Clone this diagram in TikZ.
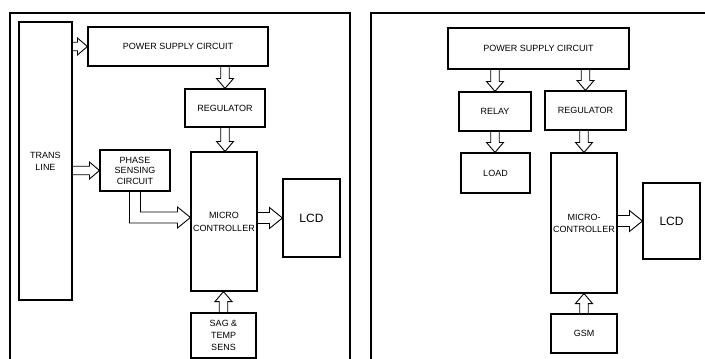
\documentclass[tikz,border=0pt]{standalone}
\usepackage{fontspec}
\setmainfont{Liberation Sans}
\usetikzlibrary{calc}
\tikzset{
	blk/.style={draw, line width=1.1pt, align=center, inner sep=1pt, font=\fontsize{9}{12}\selectfont},
	bigtxt/.style={font=\fontsize{12}{13}\selectfont},
	blkline/.style={line width=0.9pt, line join=miter}
}
% shaft half width, head half width, head length, from, to
\newcommand\blockarrow[5]{\draw[blkline] let \p1=(#4), \p2=(#5), \n1={atan2(\y2-\y1,\x2-\x1)}, \n2={veclen(\x2-\x1,\y2-\y1)} in [shift={(\p1)}, rotate=\n1] (0,-#1) -- (\n2-#3,-#1) -- (\n2-#3,-#2) -- (\n2,0) -- (\n2-#3,#2) -- (\n2-#3,#1) -- (0,#1);}

\begin{document}
\begin{tikzpicture}[x=1pt,y=-1pt]
				\clip (0,0) rectangle (705,359);
				
				\draw[line width=1.1pt] (10,366) -- (10,13) -- (350,13) -- (350,366);
				\draw[line width=1.1pt] (371,366) -- (371,13) -- (712,13);
				
				\node[blk, minimum width=53, minimum height=278] (trans) at (45.5,161) {TRANS\\LINE};
				\node[blk, minimum width=180, minimum height=39] (psc) at (178,46.5) {POWER SUPPLY CIRCUIT};
				\node[blk, minimum width=80, minimum height=38] (reg) at (225,108) {REGULATOR};
				\node[blk, minimum width=70, minimum height=41, font=\fontsize{9}{10.5}\selectfont] (phase) at (135,170.5) {PHASE\\SENSING\\CIRCUIT};
				\node[blk, minimum width=66, minimum height=139, font=\fontsize{9}{13}\selectfont] (micro) at (224,221.5) {MICRO\\CONTROLLER};
				\node[blk, bigtxt, minimum width=57, minimum height=78] (lcd) at (311.5,218) {LCD};
				\node[blk, minimum width=65, minimum height=45] (sag) at (223.5,335.5) {SAG \&\\TEMP\\SENS};
				
				\blockarrow{4.25}{8.5}{10}{psc.west -| trans.east}{psc.west}
				\blockarrow{4.25}{8.5}{10}{phase.west -| trans.east}{phase.west}
				\blockarrow{4.25}{8.5}{10}{reg.north |- psc.south}{reg.north}
				\blockarrow{4.25}{8.5}{10}{reg.south}{reg.south |- micro.north}
				\blockarrow{5.5}{10.5}{13}{micro.east |- lcd.west}{lcd.west}
				\blockarrow{4.25}{8.5}{10}{sag.north}{sag.north |- micro.south}
				\draw[blkline] let \p1=(phase.south), \p2=([yshift=4pt]micro.west) in
					(\x1-5.5pt,\y1) -- (\x1-5.5pt,\y2-5.5pt) -- (\x2-13pt,\y2-5.5pt) -- (\x2-13pt,\y2-10.5pt) -- (\p2)
					-- (\x2-13pt,\y2+10.5pt) -- (\x2-13pt,\y2+5.5pt) -- (\x1+5.5pt,\y2+5.5pt) -- (\x1+5.5pt,\y1);
				
				\node[blk, minimum width=181, minimum height=41] (psc2) at (538.5,48.5) {POWER SUPPLY CIRCUIT};
				\node[blk, minimum width=72, minimum height=39] (relay) at (495,111.5) {RELAY};
				\node[blk, minimum width=81, minimum height=39] (reg2) at (585.5,110.5) {REGULATOR};
				\node[blk, minimum width=69, minimum height=40] (load) at (495.5,173) {LOAD};
				\node[blk, minimum width=66, minimum height=140] (micro2) at (584,223) {MICRO-\\CONTROLLER};
				\node[blk, bigtxt, minimum width=57, minimum height=76] (lcd2) at (671.5,221) {LCD};
				\node[blk, minimum width=66, minimum height=39] (gsm) at (584,333.5) {GSM};
				
				\blockarrow{4.25}{8.5}{10}{relay.north |- psc2.south}{relay.north}
				\blockarrow{4.25}{8.5}{10}{reg2.north |- psc2.south}{reg2.north}
				\blockarrow{4.25}{8.5}{10}{relay.south}{relay.south |- load.north}
				\blockarrow{4.25}{8.5}{10}{reg2.south -| micro2.north}{micro2.north}
				\blockarrow{5.5}{10.5}{13}{micro2.east |- lcd2.west}{lcd2.west}
				\blockarrow{4.25}{8.5}{10}{gsm.north}{micro2.south}
			\end{tikzpicture}
\end{document}
